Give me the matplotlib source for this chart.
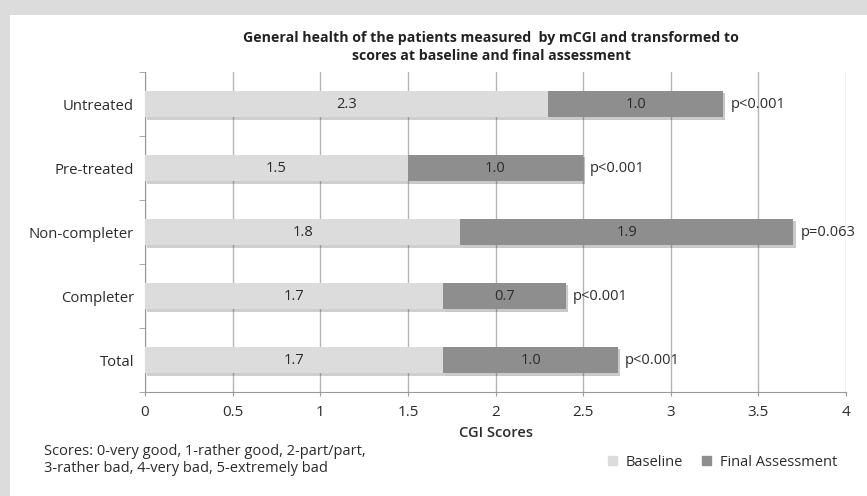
import numpy as np
import matplotlib.pyplot as plt
import matplotlib.patheffects as pe
from matplotlib.patches import Rectangle

# data
groups = ['Untreated', 'Pre-treated', 'Non-completer', 'Completer', 'Total']
baseline = [2.3, 1.5, 1.8, 1.7, 1.7]
final = [1.0, 1.0, 1.9, 0.7, 1.0]
pvals = ['p<0.001', 'p<0.001', 'p=0.063', 'p<0.001', 'p<0.001']
xticks = [0, 0.5, 1, 1.5, 2, 2.5, 3, 3.5, 4]
xticklabels = ['0', '0.5', '1', '1.5', '2', '2.5', '3', '3.5', '4']

c_base = '#dcdcdc'
c_final = '#8e8e8f'
txt = '#2b2b2b'

plt.rcParams['font.family'] = ['Open Sans', 'DejaVu Sans']

fig = plt.figure(figsize=(8.67, 4.96), dpi=100)
fig.patch.set_facecolor('white')
# grey frame around the panel
fig.patches.append(Rectangle((0, 0), 1, 1, transform=fig.transFigure,
                             facecolor='#dcdcdc', edgecolor='none', zorder=-2))
fig.patches.append(Rectangle((10 / 867, 0), 1, 1 - 15 / 496, transform=fig.transFigure,
                             facecolor='white', edgecolor='none', zorder=-1))

ax = fig.add_axes([145 / 867, 1 - 392 / 496, 701 / 867, 320 / 496])
y = np.arange(len(groups))
h = 0.42
shadow = [pe.SimplePatchShadow(offset=(1.5, -1.5), alpha=0.25), pe.Normal()]
b1 = ax.barh(y, baseline, height=h, color=c_base, zorder=3)
b2 = ax.barh(y, final, left=baseline, height=h, color=c_final, zorder=3)
for p in list(b1) + list(b2):
    p.set_path_effects(shadow)

for i in range(len(groups)):
    ax.text(baseline[i] / 2, y[i], f'{baseline[i]:.1f}', ha='center', va='center',
            fontsize=10.5, color=txt, zorder=4)
    ax.text(baseline[i] + final[i] / 2, y[i], f'{final[i]:.1f}', ha='center', va='center',
            fontsize=10.5, color=txt, zorder=4)
    ax.text(baseline[i] + final[i] + 0.04, y[i], pvals[i], ha='left', va='center',
            fontsize=10.5, color=txt, zorder=4)

ax.set_xlim(0, 4)
ax.set_ylim(len(groups) - 0.5, -0.5)
ax.set_xticks(xticks)
ax.set_xticklabels(xticklabels, fontsize=11, color=txt)
ax.set_yticks(y)
ax.set_yticklabels(groups, fontsize=10.7, color=txt)
ax.set_yticks(np.arange(-0.5, len(groups), 1), minor=True)
ax.tick_params(axis='y', which='major', length=0, pad=8)
ax.tick_params(axis='y', which='minor', length=4, color='#999999')
ax.tick_params(axis='x', length=3, color='#999999', pad=6)
ax.xaxis.grid(True, color='#b4b4b4', linewidth=1, zorder=0)
for s in ['top', 'right']:
    ax.spines[s].set_visible(False)
ax.spines['left'].set_color('#999999')
ax.spines['bottom'].set_color('#999999')
ax.set_xlabel('CGI Scores', fontsize=10.5, fontweight='semibold', color=txt, labelpad=5)

fig.text(491 / 867, 1 - 47 / 496,
         'General health of the patients measured  by mCGI and transformed to\nscores at baseline and final assessment',
         ha='center', va='center', fontsize=10.2, fontweight='bold', color='#222222',
         linespacing=1.35)

fig.text(44 / 867, 1 - 460 / 496,
         'Scores: 0-very good, 1-rather good, 2-part/part,\n3-rather bad, 4-very bad, 5-extremely bad',
         ha='left', va='center', fontsize=10.5, color=txt, linespacing=1.1)

fig.legend(handles=[Rectangle((0, 0), 1, 1, color=c_base), Rectangle((0, 0), 1, 1, color=c_final)],
           labels=['Baseline', 'Final Assessment'], loc='center right',
           bbox_to_anchor=(850 / 867, 1 - 462 / 496), ncol=2, frameon=False,
           fontsize=10.5, handlelength=0.6, handleheight=0.6, handletextpad=0.6,
           columnspacing=1.3, labelcolor=txt)

fig.savefig('out.png', dpi=100)
